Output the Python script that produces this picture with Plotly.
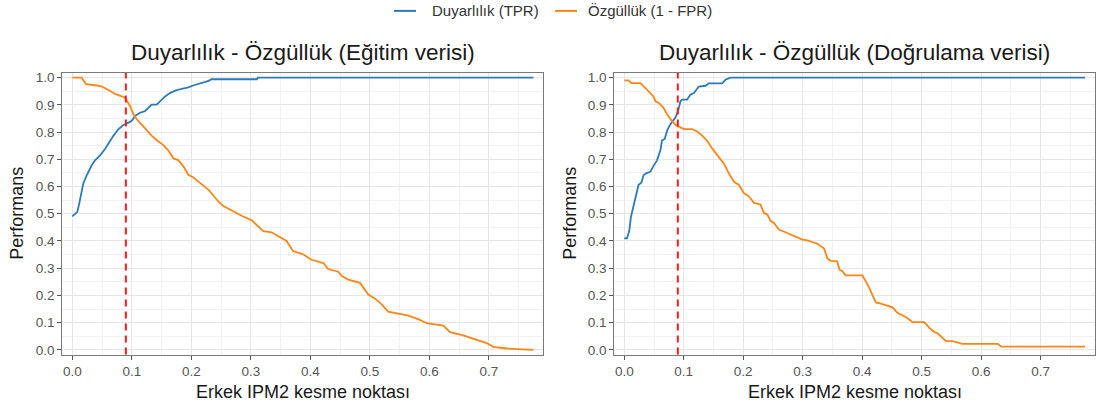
import plotly.graph_objects as go

# --- Eğitim verisi (training) ---
train_cut_tpr = [0.0, 0.0085, 0.0118, 0.0185, 0.0242, 0.0326, 0.0382, 0.0466, 0.055, 0.0634,
                 0.069, 0.0773, 0.0857, 0.0914, 0.0998, 0.1054, 0.1138, 0.122, 0.128, 0.1334,
                 0.1418, 0.147, 0.156, 0.164, 0.173, 0.184, 0.195, 0.203, 0.212, 0.220,
                 0.229, 0.234, 0.310, 0.312, 0.775]
train_tpr = [0.490, 0.507, 0.539, 0.611, 0.641, 0.678, 0.696, 0.714, 0.738, 0.768,
             0.786, 0.810, 0.826, 0.831, 0.841, 0.859, 0.871, 0.877, 0.889, 0.901,
             0.901, 0.913, 0.931, 0.943, 0.952, 0.959, 0.964, 0.971, 0.976, 0.982,
             0.988, 0.994, 0.994, 1.0, 1.0]

train_cut_spec = [0.0, 0.0157, 0.023, 0.035, 0.041, 0.049, 0.058, 0.063, 0.072, 0.080,
                  0.087, 0.0914, 0.097, 0.1026, 0.108, 0.1166, 0.125, 0.133, 0.142, 0.153,
                  0.161, 0.170, 0.178, 0.187, 0.195, 0.203, 0.212, 0.220, 0.229, 0.237,
                  0.245, 0.254, 0.271, 0.287, 0.3015, 0.31, 0.321, 0.335, 0.346, 0.360,
                  0.371, 0.388, 0.402, 0.422, 0.430, 0.447, 0.453, 0.464, 0.4835, 0.492,
                  0.4975, 0.509, 0.520, 0.531, 0.545, 0.565, 0.5815, 0.5956, 0.6235, 0.635,
                  0.657, 0.671, 0.6965, 0.7076, 0.730, 0.775]
train_spec = [1.0, 1.0, 0.976, 0.974, 0.971, 0.968, 0.959, 0.952, 0.940, 0.935,
              0.928, 0.916, 0.896, 0.866, 0.848, 0.827, 0.806, 0.788, 0.770, 0.752,
              0.734, 0.703, 0.697, 0.673, 0.643, 0.634, 0.618, 0.603, 0.588, 0.567,
              0.546, 0.528, 0.508, 0.490, 0.476, 0.457, 0.436, 0.432, 0.418, 0.400,
              0.363, 0.351, 0.331, 0.319, 0.297, 0.287, 0.271, 0.258, 0.246, 0.222,
              0.203, 0.188, 0.167, 0.140, 0.134, 0.126, 0.113, 0.098, 0.089, 0.065,
              0.053, 0.043, 0.025, 0.011, 0.005, 0.0]

# --- Doğrulama verisi (validation) ---
valid_cut_tpr = [0.0, 0.0045, 0.0084, 0.011, 0.0157, 0.021, 0.024, 0.0287, 0.0325, 0.038,
                 0.0438, 0.049, 0.055, 0.0607, 0.0634, 0.068, 0.072, 0.0775, 0.086, 0.0905,
                 0.0944, 0.0972, 0.1056, 0.111, 0.117, 0.1254, 0.1365, 0.142, 0.1646, 0.170,
                 0.1787, 0.775]
valid_tpr = [0.41, 0.41, 0.437, 0.486, 0.530, 0.576, 0.606, 0.614, 0.642, 0.650,
             0.654, 0.675, 0.696, 0.733, 0.769, 0.775, 0.805, 0.829, 0.853, 0.877,
             0.913, 0.919, 0.919, 0.937, 0.943, 0.967, 0.970, 0.979, 0.979, 0.992,
             1.0, 1.0]

valid_cut_spec = [0.0, 0.0072, 0.0118, 0.027, 0.0354, 0.0438, 0.049, 0.0523, 0.058, 0.066,
                  0.072, 0.080, 0.0877, 0.0944, 0.100, 0.114, 0.1224, 0.131, 0.139, 0.148,
                  0.159, 0.1675, 0.176, 0.1843, 0.1927, 0.201, 0.2095, 0.218, 0.229, 0.235,
                  0.2405, 0.246, 0.2516, 0.260, 0.271, 0.280, 0.288, 0.2995, 0.308, 0.316,
                  0.3247, 0.336, 0.3415, 0.347, 0.358, 0.362, 0.3667, 0.372, 0.4005, 0.412,
                  0.423, 0.4315, 0.451, 0.4597, 0.4735, 0.485, 0.5045, 0.513, 0.5215, 0.527,
                  0.541, 0.552, 0.569, 0.628, 0.634, 0.775]
valid_spec = [0.99, 0.99, 0.98, 0.98, 0.962, 0.943, 0.931, 0.913, 0.907, 0.889,
              0.865, 0.841, 0.823, 0.817, 0.811, 0.811, 0.802, 0.787, 0.769, 0.739,
              0.708, 0.684, 0.648, 0.618, 0.606, 0.576, 0.564, 0.540, 0.534, 0.502,
              0.497, 0.474, 0.466, 0.442, 0.432, 0.423, 0.417, 0.405, 0.402, 0.396,
              0.390, 0.372, 0.336, 0.327, 0.325, 0.294, 0.290, 0.274, 0.274, 0.228,
              0.174, 0.170, 0.156, 0.135, 0.121, 0.102, 0.102, 0.081, 0.065, 0.061,
              0.032, 0.032, 0.022, 0.022, 0.012, 0.012]

optimal_cut = 0.09

panel_titles = ["Duyarlılık - Özgüllük (Eğitim verisi)", "Duyarlılık - Özgüllük (Doğrulama verisi)"]
series_names = ["Duyarlılık (TPR)", "Özgüllük (1 - FPR)"]
x_title = "Erkek IPM2 kesme noktası"
y_title = "Performans"

BLUE = "#2b7bba"
ORANGE = "#ff8517"
COLORS = [BLUE, ORANGE]
FONT = "Liberation Sans, Arial, sans-serif"
W, H = 1102, 412

panels = [
    dict(xa="x", ya="y", dom=[62.3 / W, 543.3 / W],
         tpr=(train_cut_tpr, train_tpr), spec=(train_cut_spec, train_spec)),
    dict(xa="x2", ya="y2", dom=[614.3 / W, 1095.0 / W],
         tpr=(valid_cut_tpr, valid_tpr), spec=(valid_cut_spec, valid_spec)),
]
y_dom = [1 - 356.7 / H, 1 - 71.0 / H]

fig = go.Figure()
for i, p in enumerate(panels):
    fig.add_trace(go.Scatter(x=p["tpr"][0], y=p["tpr"][1], mode="lines", name=series_names[0],
                             line=dict(color=BLUE, width=1.8), xaxis=p["xa"], yaxis=p["ya"],
                             showlegend=False))
    fig.add_trace(go.Scatter(x=p["spec"][0], y=p["spec"][1], mode="lines", name=series_names[1],
                             line=dict(color=ORANGE, width=1.8), xaxis=p["xa"], yaxis=p["ya"],
                             showlegend=False))
    # optimal cut-off marker
    fig.add_shape(type="line", xref=p["xa"], yref="paper", x0=optimal_cut, x1=optimal_cut,
                  y0=y_dom[0], y1=y_dom[1], line=dict(color="#ff1a1a", width=2, dash="7px,5px"))

axis_common = dict(
    showline=True, mirror=True, linecolor="#7a7a7a", linewidth=1.2,
    ticks="outside", ticklen=4, tickwidth=1.2, tickcolor="#555555",
    tickfont=dict(family=FONT, size=13.5, color="#555555"),
    showgrid=True, gridcolor="#e6e6e6", gridwidth=1.2, zeroline=False,
    tick0=0, dtick=0.1, tickformat=".1f",
    minor=dict(tick0=0, dtick=0.05, showgrid=True, gridcolor="#f1f1f1", gridwidth=0.8, ticks=""),
)

layout = dict(
    width=W, height=H, margin=dict(l=0, r=0, t=0, b=0),
    plot_bgcolor="white", paper_bgcolor="white",
    font=dict(family=FONT, color="#1a1a1a"),
    showlegend=False,
)
for i, p in enumerate(panels):
    sfx = "" if i == 0 else "2"
    layout["xaxis" + sfx] = dict(axis_common, domain=p["dom"], range=[-0.0168, 0.7916],
                                 anchor="y" + sfx)
    layout["yaxis" + sfx] = dict(axis_common, domain=y_dom, range=[-0.017, 1.017],
                                 anchor="x" + sfx)
fig.update_layout(**layout)

# top legend: key line + label for each series
legend_y = 1 - 8 / H
legend_keys = [(394, 416, 430), (555, 577, 586)]  # key start, key end, label start (px)
for (k0, k1, tx), name, color in zip(legend_keys, series_names, COLORS):
    fig.add_shape(type="line", xref="paper", yref="paper", x0=k0 / W, x1=k1 / W,
                  y0=legend_y, y1=legend_y, line=dict(color=color, width=2))
    fig.add_annotation(text=name, xref="paper", yref="paper", x=tx / W, y=legend_y,
                       xanchor="left", yanchor="middle", showarrow=False,
                       font=dict(family=FONT, size=15, color="#333333"))

centers = [(62.3 + 543.3) / 2 / W, (614.3 + 1095.0) / 2 / W]
ytitle_x = [17 / W, 570 / W]
for i in range(2):
    fig.add_annotation(text=panel_titles[i], xref="paper", yref="paper", x=centers[i],
                       y=1 - 50 / H, xanchor="center", yanchor="middle", showarrow=False,
                       font=dict(family=FONT, size=22.5, color="#1a1a1a"))
    fig.add_annotation(text=x_title, xref="paper", yref="paper", x=centers[i],
                       y=1 - 395 / H, xanchor="center", yanchor="middle", showarrow=False,
                       font=dict(family=FONT, size=18, color="#1a1a1a"))
    fig.add_annotation(text=y_title, xref="paper", yref="paper", x=ytitle_x[i],
                       y=sum(y_dom) / 2, xanchor="center", yanchor="middle", textangle=-90,
                       showarrow=False, font=dict(family=FONT, size=18, color="#1a1a1a"))

fig.write_html("out.html")
